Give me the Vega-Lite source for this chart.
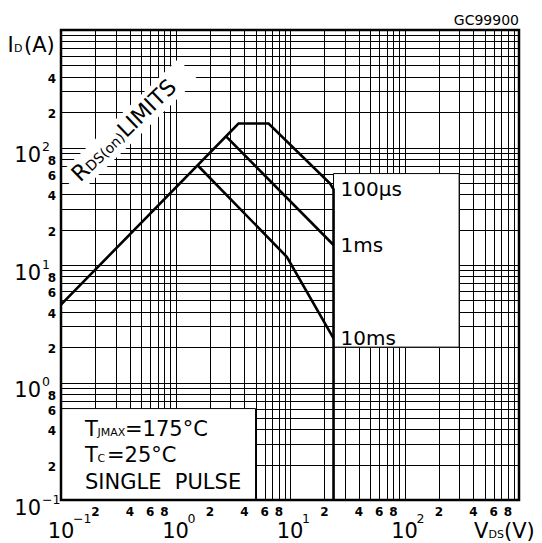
{
 "$schema": "https://vega.github.io/schema/vega-lite/v6.json",
 "width": 458, "height": 470,
 "autosize": {"type": "none"},
 "padding": {"left": 61, "top": 30, "right": 23, "bottom": 43},
 "background": "white",
 "config": {"view": {"stroke": null}, "text": {"font": "DejaVu Sans", "color": "black"}},
 "encoding": {
  "x": {"field": "x", "type": "quantitative", "scale": {"type": "log", "domain": [0.1, 1000], "nice": false},
   "axis": {"values": [0.1,0.2,0.3,0.4,0.5,0.6,0.7,0.8,0.9,1,2,3,4,5,6,7,8,9,10,20,30,40,50,60,70,80,90,100,200,300,400,500,600,700,800,900,1000],
    "grid": true, "labels": false, "ticks": false, "domain": false, "title": null, "gridColor": "#000", "gridWidth": 1, "gridOpacity": 1}},
  "y": {"field": "y", "type": "quantitative", "scale": {"type": "log", "domain": [0.1, 1000], "nice": false},
   "axis": {"values": [0.1,0.2,0.3,0.4,0.5,0.6,0.7,0.8,0.9,1,2,3,4,5,6,7,8,9,10,20,30,40,50,60,70,80,90,100,200,300,400,500,600,700,800,900,1000],
    "grid": true, "labels": false, "ticks": false, "domain": false, "title": null, "gridColor": "#000", "gridWidth": 1, "gridOpacity": 1}}
 },
 "layer": [
  {"data": {"values": [{"x": 0.1, "x2": 5, "y": 0.1, "y2": 0.6}, {"x": 24, "x2": 300, "y": 2, "y2": 60}]},
   "mark": {"type": "rect", "fill": "white", "stroke": "black", "strokeWidth": 1},
   "encoding": {"x2": {"field": "x2"}, "y2": {"field": "y2"}}},
  {"data": {"values": [{"x": 0.389, "y": 151}]},
   "mark": {"type": "point", "shape": "M-1,-0.17L1,-0.17L1,0.17L-1,0.17Z", "filled": true, "color": "white", "opacity": 1, "size": 27225, "angle": -44}},
  {"data": {"values": [
    {"s": "100us", "o": 1, "x": 0.1, "y": 4.6},
    {"s": "100us", "o": 2, "x": 3.55, "y": 160},
    {"s": "100us", "o": 3, "x": 6.5, "y": 160},
    {"s": "100us", "o": 4, "x": 22.4, "y": 49.4},
    {"s": "100us", "o": 5, "x": 24, "y": 44},
    {"s": "100us", "o": 6, "x": 24, "y": 0.1},
    {"s": "1ms", "o": 1, "x": 2.75, "y": 125},
    {"s": "1ms", "o": 2, "x": 24, "y": 14.8},
    {"s": "10ms", "o": 1, "x": 1.55, "y": 71},
    {"s": "10ms", "o": 2, "x": 9.4, "y": 11.7},
    {"s": "10ms", "o": 3, "x": 24, "y": 2.37}]},
   "mark": {"type": "line", "color": "black", "strokeWidth": 2.6},
   "encoding": {"detail": {"field": "s"}, "order": {"field": "o"}}},
  {"data": {"values": [{"x": 0.1, "x2": 1000, "y": 0.1, "y2": 1000}]},
   "mark": {"type": "rect", "fill": "white", "fillOpacity": 0, "stroke": "black", "strokeWidth": 2.5},
   "encoding": {"x2": {"field": "x2"}, "y2": {"field": "y2"}}},
  {"data": {"values": [{"x": 24, "y": 44, "t": "100µs"}, {"x": 24, "y": 14.8, "t": "1ms"}, {"x": 24, "y": 2.37, "t": "10ms"}]},
   "mark": {"type": "text", "align": "left", "baseline": "middle", "dx": 7, "dy": 1, "fontSize": 20},
   "encoding": {"text": {"field": "t"}}},
  {"data": {"values": [{"x": 0.1, "y": 0.1, "t": "10", "s": "−1"}, {"x": 0.1, "y": 1, "t": "10", "s": "0"}, {"x": 0.1, "y": 10, "t": "10", "s": "1"}, {"x": 0.1, "y": 100, "t": "10", "s": "2"}]},
   "layer": [
    {"mark": {"type": "text", "align": "right", "baseline": "alphabetic", "dx": -20, "dy": 14.5, "fontSize": 21}, "encoding": {"text": {"field": "t"}}},
    {"mark": {"type": "text", "align": "left", "baseline": "alphabetic", "dx": -19, "dy": 3.5, "fontSize": 12.5}, "encoding": {"text": {"field": "s"}}}
   ]},
  {"data": {"values": [{"x": 0.1, "y": 0.1, "t": "10", "s": "−1"}, {"x": 1, "y": 0.1, "t": "10", "s": "0"}, {"x": 10, "y": 0.1, "t": "10", "s": "1"}, {"x": 100, "y": 0.1, "t": "10", "s": "2"}]},
   "layer": [
    {"mark": {"type": "text", "align": "center", "baseline": "alphabetic", "dy": 38, "fontSize": 21}, "encoding": {"text": {"field": "t"}}},
    {"mark": {"type": "text", "align": "left", "baseline": "alphabetic", "dx": 12, "dy": 22.5, "fontSize": 12.5}, "encoding": {"text": {"field": "s"}}}
   ]},
  {"data": {"values": [{"x": 0.1, "y": 400, "t": "4"}, {"x": 0.1, "y": 200, "t": "2"}, {"x": 0.1, "y": 80, "t": "8"}, {"x": 0.1, "y": 60, "t": "6"}, {"x": 0.1, "y": 40, "t": "4"}, {"x": 0.1, "y": 20, "t": "2"}, {"x": 0.1, "y": 8, "t": "8"}, {"x": 0.1, "y": 6, "t": "6"}, {"x": 0.1, "y": 4, "t": "4"}, {"x": 0.1, "y": 2, "t": "2"}, {"x": 0.1, "y": 0.8, "t": "8"}, {"x": 0.1, "y": 0.6, "t": "6"}, {"x": 0.1, "y": 0.4, "t": "4"}, {"x": 0.1, "y": 0.2, "t": "2"}]},
   "mark": {"type": "text", "align": "right", "baseline": "middle", "dx": -5, "dy": 2, "fontSize": 12, "fontWeight": "bold"},
   "encoding": {"text": {"field": "t"}}},
  {"data": {"values": [{"x": 0.2, "y": 0.1, "t": "2"}, {"x": 0.4, "y": 0.1, "t": "4"}, {"x": 0.6, "y": 0.1, "t": "6"}, {"x": 0.8, "y": 0.1, "t": "8"}, {"x": 2, "y": 0.1, "t": "2"}, {"x": 4, "y": 0.1, "t": "4"}, {"x": 6, "y": 0.1, "t": "6"}, {"x": 8, "y": 0.1, "t": "8"}, {"x": 20, "y": 0.1, "t": "2"}, {"x": 40, "y": 0.1, "t": "4"}, {"x": 60, "y": 0.1, "t": "6"}, {"x": 80, "y": 0.1, "t": "8"}, {"x": 200, "y": 0.1, "t": "2"}, {"x": 400, "y": 0.1, "t": "4"}, {"x": 600, "y": 0.1, "t": "6"}, {"x": 800, "y": 0.1, "t": "8"}]},
   "mark": {"type": "text", "align": "center", "baseline": "alphabetic", "dy": 16, "fontSize": 12, "fontWeight": "bold"},
   "encoding": {"text": {"field": "t"}}},
  {"data": {"values": [{"x": 0.1, "y": 1000, "a": "I", "b": "D", "c": "(A)"}]},
   "layer": [
    {"mark": {"type": "text", "align": "left", "baseline": "alphabetic", "dx": -53.5, "dy": 22, "fontSize": 21}, "encoding": {"text": {"field": "a"}}},
    {"mark": {"type": "text", "align": "left", "baseline": "alphabetic", "dx": -47, "dy": 22, "fontSize": 11}, "encoding": {"text": {"field": "b"}}},
    {"mark": {"type": "text", "align": "left", "baseline": "alphabetic", "dx": -37, "dy": 22, "fontSize": 21}, "encoding": {"text": {"field": "c"}}}
   ]},
  {"data": {"values": [{"x": 1000, "y": 0.1, "a": "V", "b": "DS", "c": "(V)"}]},
   "layer": [
    {"mark": {"type": "text", "align": "left", "baseline": "alphabetic", "dx": -45, "dy": 38, "fontSize": 21}, "encoding": {"text": {"field": "a"}}},
    {"mark": {"type": "text", "align": "left", "baseline": "alphabetic", "dx": -30.5, "dy": 38, "fontSize": 11}, "encoding": {"text": {"field": "b"}}},
    {"mark": {"type": "text", "align": "left", "baseline": "alphabetic", "dx": -15, "dy": 38, "fontSize": 21}, "encoding": {"text": {"field": "c"}}}
   ]},
  {"data": {"values": [{"x": 1000, "y": 1000, "t": "GC99900"}]},
   "mark": {"type": "text", "align": "right", "baseline": "alphabetic", "dx": 0, "dy": -5, "fontSize": 14},
   "encoding": {"text": {"field": "t"}}},
  {"data": {"values": [{"x": 0.1, "y": 0.6, "a": "T", "b": "JMAX", "c": "=175°C", "d": "C", "e": "=25°C", "f": "SINGLE\u00a0 PULSE"}]},
   "layer": [
    {"mark": {"type": "text", "align": "left", "baseline": "alphabetic", "dx": 24, "dy": 27.4, "fontSize": 21}, "encoding": {"text": {"field": "a"}}},
    {"mark": {"type": "text", "align": "left", "baseline": "alphabetic", "dx": 36.5, "dy": 27.4, "fontSize": 11}, "encoding": {"text": {"field": "b"}}},
    {"mark": {"type": "text", "align": "left", "baseline": "alphabetic", "dx": 64, "dy": 27.4, "fontSize": 21}, "encoding": {"text": {"field": "c"}}},
    {"mark": {"type": "text", "align": "left", "baseline": "alphabetic", "dx": 24, "dy": 53.4, "fontSize": 21}, "encoding": {"text": {"field": "a"}}},
    {"mark": {"type": "text", "align": "left", "baseline": "alphabetic", "dx": 36.5, "dy": 53.4, "fontSize": 11}, "encoding": {"text": {"field": "d"}}},
    {"mark": {"type": "text", "align": "left", "baseline": "alphabetic", "dx": 46, "dy": 53.4, "fontSize": 21}, "encoding": {"text": {"field": "e"}}},
    {"mark": {"type": "text", "align": "left", "baseline": "alphabetic", "dx": 24, "dy": 80.7, "fontSize": 21}, "encoding": {"text": {"field": "f"}}}
   ]},
  {"data": {"values": [{"x": 0.147, "y": 50, "a": "R", "b": "DS(on)", "c": "LIMITS"}]},
   "layer": [
    {"mark": {"type": "text", "align": "left", "baseline": "alphabetic", "angle": -44, "dx": 0, "fontSize": 22}, "encoding": {"text": {"field": "a"}}},
    {"mark": {"type": "text", "align": "left", "baseline": "alphabetic", "angle": -44, "dx": 15.5, "fontSize": 14}, "encoding": {"text": {"field": "b"}}},
    {"mark": {"type": "text", "align": "left", "baseline": "alphabetic", "angle": -44, "dx": 64, "fontSize": 22}, "encoding": {"text": {"field": "c"}}}
   ]}
 ]
}
